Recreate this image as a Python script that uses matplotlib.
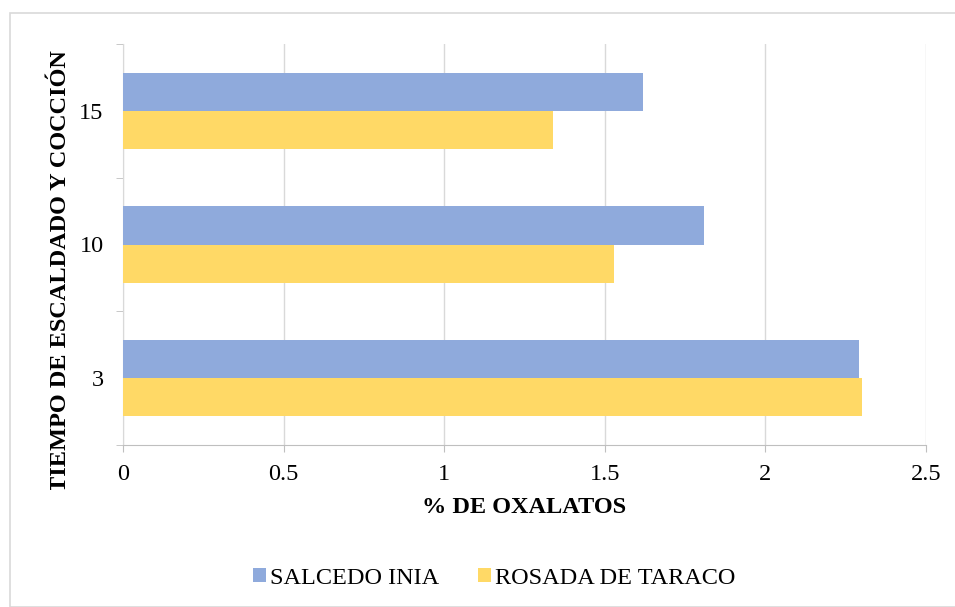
import matplotlib.pyplot as plt
from matplotlib.patches import Rectangle
from matplotlib.transforms import Bbox, TransformedBbox
import numpy as np

# Data
categories = ["3", "10", "15"]
salcedo = [2.29, 1.81, 1.62]
rosada = [2.30, 1.53, 1.34]
x_ticks = [0, 0.5, 1, 1.5, 2, 2.5]
x_labels = ["0", "0.5", "1", "1.5", "2", "2.5"]

plt.rcParams['font.family'] = ['Liberation Serif', 'DejaVu Serif']
fs = 17.5

fig = plt.figure(figsize=(9.55, 6.07), dpi=100)
ax = fig.add_axes([123 / 955, 1 - 445 / 607, (926 - 123) / 955, (445 - 44) / 607])

# outer chart border
fig.patches.append(Rectangle((10 / 955, 0), 1.0, 1 - 13 / 607, transform=fig.transFigure,
                             fill=False, edgecolor="#D9D9D9", linewidth=1.2))

y = np.arange(len(categories))
h = 0.285
ax.barh(y + h / 2, salcedo, height=h, color="#8FAADC", label="SALCEDO INIA", zorder=3)
ax.barh(y - h / 2, rosada, height=h, color="#FFD966", label="ROSADA DE TARACO", zorder=3)

ax.set_xlim(0, 2.5)
ax.set_ylim(-0.5, 2.5)
ax.set_xticks(x_ticks)
ax.set_xticklabels(x_labels, fontsize=fs)
ax.set_yticks(y)
ax.set_yticklabels(categories, fontsize=fs)
ax.set_yticks(np.arange(-0.5, 3.0, 1.0), minor=True)
ax.tick_params(axis="y", which="major", length=0, pad=14)
ax.tick_params(axis="y", which="minor", length=5, color="#BFBFBF")
ax.tick_params(axis="x", length=5, color="#BFBFBF", pad=9)

ax.grid(axis="x", color="#D9D9D9", linewidth=1, zorder=0)
for s in ["top", "right"]:
    ax.spines[s].set_visible(False)
ax.spines["bottom"].set_color("#BFBFBF")
ax.spines["left"].set_color("#D9D9D9")

ax.set_xlabel("% DE OXALATOS", fontsize=fs, fontweight="bold", labelpad=8)

# y axis title, clipped at the bottom like the original
t = fig.text(60 / 955, 1 - 50 / 607, "TIEMPO DE ESCALDADO Y COCCIÓN", rotation=90,
             fontsize=fs, fontweight="bold", ha="center", va="top")
t.set_clip_box(TransformedBbox(Bbox([[0, 1 - 490 / 607], [1, 1]]), fig.transFigure))
t.set_clip_on(True)

fig.legend(loc="center", bbox_to_anchor=(494 / 955, 1 - 578 / 607), ncol=2, frameon=False,
           prop={"family": ["Liberation Serif"], "size": fs},
           handlelength=0.55, handleheight=0.55, handletextpad=0.15, columnspacing=1.6)

fig.savefig("out.png", dpi=100)
